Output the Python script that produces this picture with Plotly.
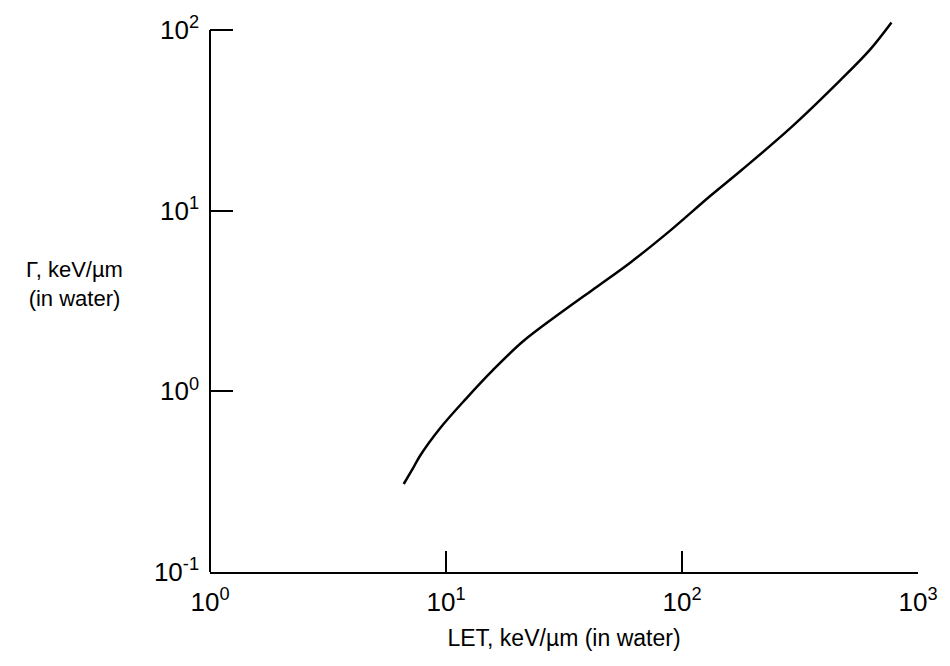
import plotly.graph_objects as go

# Data (LET in keV/um vs Gamma in keV/um, both in water)
let_vals = [6.62, 7.22, 7.79, 9.44, 12.2, 15.8, 21.1, 29.9, 43.8, 60.7, 89.1, 132, 179, 290, 469, 625, 772]
gamma_vals = [0.307, 0.372, 0.443, 0.625, 0.915, 1.31, 1.88, 2.66, 3.81, 5.19, 7.76, 12.1, 16.8, 28.9, 52.8, 77.6, 110]

x_tickvals = [1, 10, 100, 1000]
x_ticktext = ["10<sup>0</sup>", "10<sup>1</sup>", "10<sup>2</sup>", "10<sup>3</sup>"]
y_tickvals = [0.1, 1, 10, 100]
y_ticktext = ["10<sup>-1</sup>", "10<sup>0</sup>", "10<sup>1</sup>", "10<sup>2</sup>"]

FONT = "Liberation Sans, Arial, Helvetica, sans-serif"
Y_TOP = 2.05

fig = go.Figure()
fig.add_trace(go.Scatter(
    x=let_vals, y=gamma_vals, mode="lines",
    line=dict(color="black", width=2.5, shape="spline", smoothing=1.0),
    showlegend=False, hoverinfo="skip",
))

fig.update_layout(
    width=950, height=666,
    margin=dict(l=210, r=22, t=18, b=94),
    paper_bgcolor="white", plot_bgcolor="white",
    font=dict(family=FONT, color="black"),
    xaxis=dict(
        type="log", range=[0, 3],
        tickvals=x_tickvals, ticktext=x_ticktext,
        ticks="inside", ticklen=21, tickwidth=2, tickcolor="black",
        showline=True, linecolor="black", linewidth=2,
        showgrid=False, zeroline=False,
        tickfont=dict(size=26, family=FONT, color="black"),
        ticklabelstandoff=6,
        title=dict(text="LET, keV/µm (in water)", font=dict(size=23, family=FONT, color="black"), standoff=14),
    ),
    yaxis=dict(
        type="log", range=[-1, Y_TOP],
        tickvals=y_tickvals, ticktext=y_ticktext,
        ticks="inside", ticklen=23, tickwidth=2, tickcolor="black",
        showline=False, showgrid=False, zeroline=False,
        tickfont=dict(size=26, family=FONT, color="black"),
        ticklabelstandoff=10,
    ),
    shapes=[dict(
        type="line", xref="paper", yref="paper",
        x0=0, x1=0, y0=0, y1=3 / (Y_TOP + 1),
        line=dict(color="black", width=2),
    )],
    annotations=[dict(
        text="Γ, keV/µm<br>(in water)",
        xref="paper", yref="paper", x=-0.192, y=0.522,
        xanchor="center", yanchor="middle", showarrow=False,
        font=dict(size=22, family=FONT, color="black"),
    )],
)

fig.write_html("out.html")
